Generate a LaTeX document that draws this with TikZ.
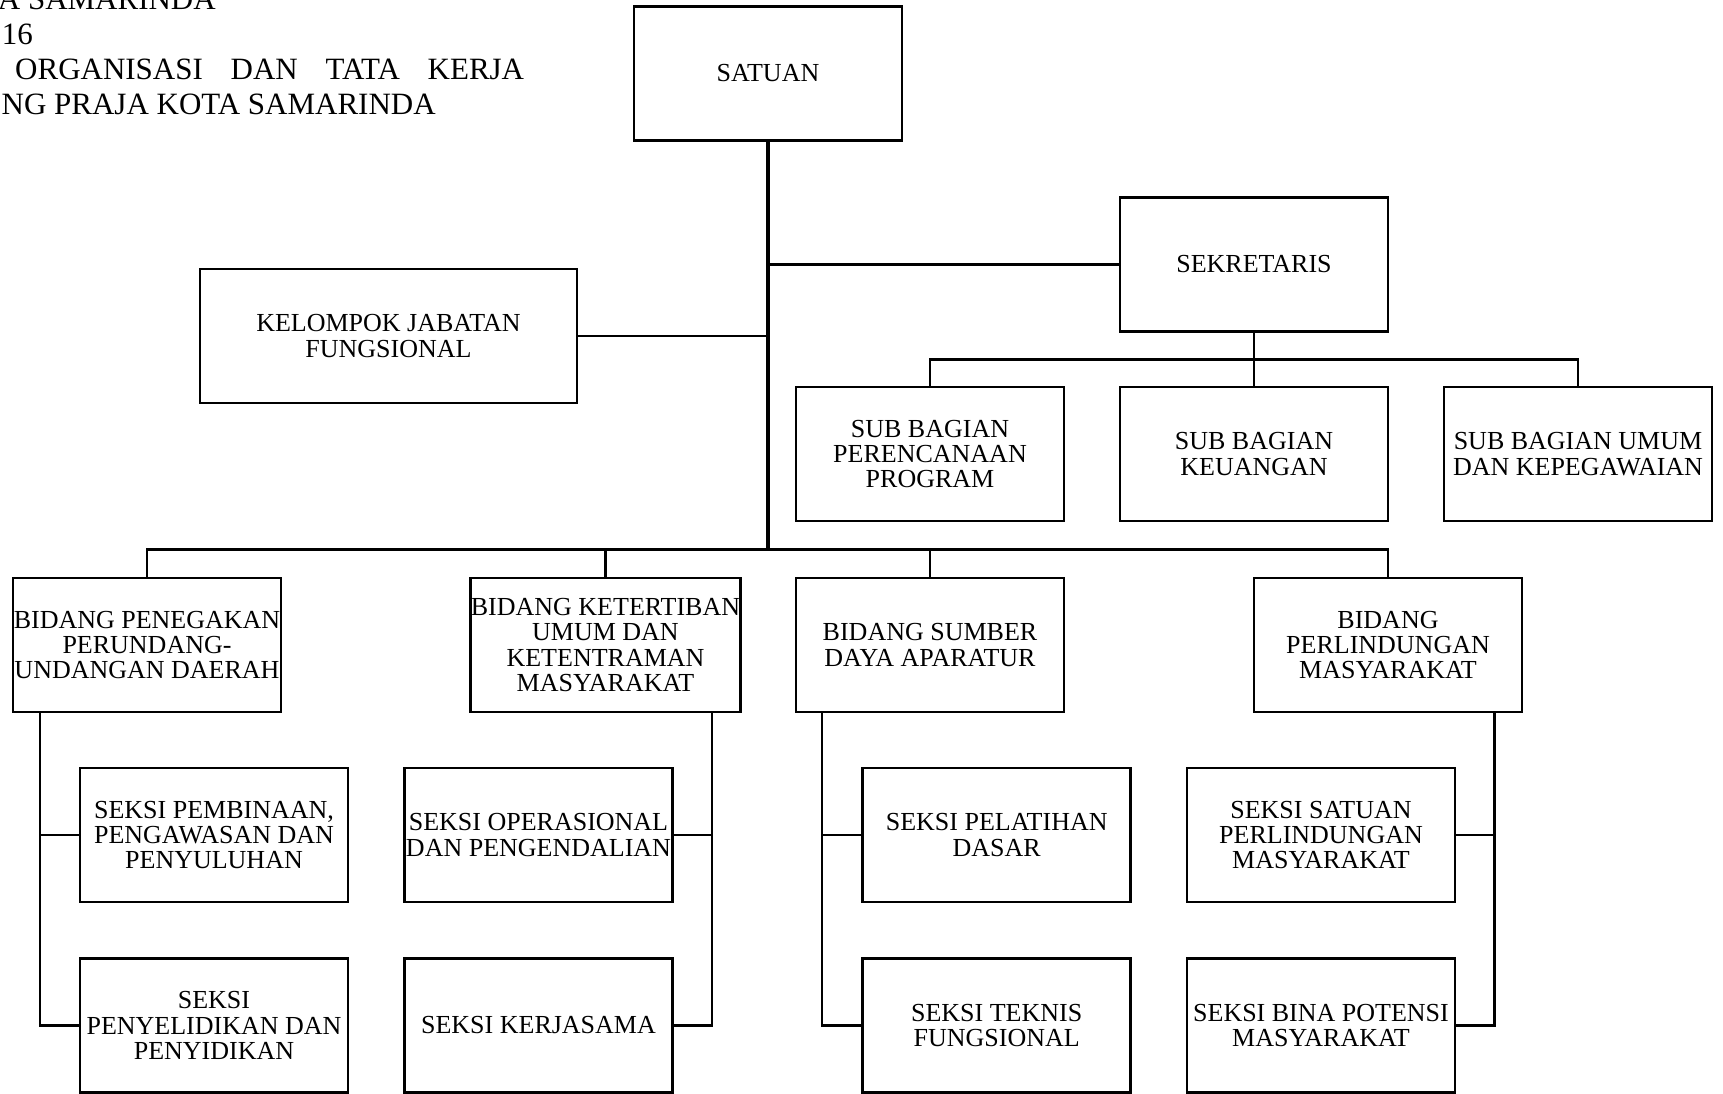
\documentclass[tikz,border=0pt]{standalone}
\usepackage{fontspec}
\setmainfont{Liberation Serif}
\begin{document}
\begin{tikzpicture}[x=1pt,y=-1pt,
  box/.style={draw, line width=2.8pt, minimum width=268pt, minimum height=134pt, inner sep=0pt, align=center, font=\fontsize{26pt}{25.3pt}\selectfont},
  hdr/.style={inner sep=0pt, font=\fontsize{31pt}{35pt}\selectfont},
  conn/.style={line width=2.8pt},
  trunk/.style={line width=4pt}]
\useasboundingbox (0,0) rectangle (1723,1093);
% header
\node[hdr, anchor=base east] (h1) at (216,9.4) {A SAMARINDA};
\node[hdr, anchor=base east] (h2) at (33,44) {16};
\node[hdr, anchor=base west] (h3) at (15,79) {\makebox[509pt][s]{ORGANISASI\hfill DAN\hfill TATA\hfill KERJA}};
\node[hdr, anchor=base east] (h4) at (436,114) {NG PRAJA KOTA SAMARINDA};
% boxes
\node[box] (satuan) at (768,73.5) {SATUAN};
\node[box] (sekretaris) at (1254,264.5) {SEKRETARIS};
\node[box, minimum width=377pt] (kelompok) at (388.5,336) {KELOMPOK JABATAN\\FUNGSIONAL};
\node[box] (sub1) at (930,454) {SUB BAGIAN\\PERENCANAAN\\PROGRAM};
\node[box] (sub2) at (1254,454) {SUB BAGIAN\\KEUANGAN};
\node[box] (sub3) at (1578,454) {SUB BAGIAN UMUM\\DAN KEPEGAWAIAN};
\node[box] (bid1) at (147,645) {BIDANG PENEGAKAN\\PERUNDANG-\\UNDANGAN DAERAH};
\node[box] (bid2) at (605.5,645) {BIDANG KETERTIBAN\\UMUM DAN\\KETENTRAMAN\\MASYARAKAT};
\node[box] (bid3) at (930,645) {BIDANG SUMBER\\DAYA APARATUR};
\node[box] (bid4) at (1388,645) {BIDANG\\PERLINDUNGAN\\MASYARAKAT};
\node[box] (s11) at (214,835) {SEKSI PEMBINAAN,\\PENGAWASAN DAN\\PENYULUHAN};
\node[box] (s12) at (214,1025.5) {SEKSI\\PENYELIDIKAN DAN\\PENYIDIKAN};
\node[box] (s21) at (538.5,835) {SEKSI OPERASIONAL\\DAN PENGENDALIAN};
\node[box] (s22) at (538.5,1025.5) {SEKSI KERJASAMA};
\node[box] (s31) at (996.7,835) {SEKSI PELATIHAN\\DASAR};
\node[box] (s32) at (996.7,1025.5) {SEKSI TEKNIS\\FUNGSIONAL};
\node[box] (s41) at (1321,835) {SEKSI SATUAN\\PERLINDUNGAN\\MASYARAKAT};
\node[box] (s42) at (1321,1025.5) {SEKSI BINA POTENSI\\MASYARAKAT};
% coordinates
\coordinate (bus) at (768,549.5);
\coordinate (sbus) at (1254,359.3);
\coordinate (k1) at (40,712);
\coordinate (k2) at (712,712);
\coordinate (k3) at (822,712);
\coordinate (k4) at (1494.5,712);
% connectors
\draw[conn] (satuan.south |- sekretaris.west) -- (sekretaris.west);
\draw[conn] (satuan.south |- kelompok.east) -- (kelompok.east);
\draw[conn] (sekretaris.south) -- (sub2.north);
\draw[conn] (sub1.north) |- (sbus) -| (sub3.north);
\draw[conn] (bid1.north) |- (bus) -| (bid4.north);
\draw[conn] (bid2.north) -- (bid2.north |- bus);
\draw[conn] (bid3.north) -- (bid3.north |- bus);
\draw[trunk] (satuan.south) -- (bus);
\draw[conn] (k1) |- (s12.west);
\draw[conn] (k1 |- s11.west) -- (s11.west);
\draw[conn] (k2) |- (s22.east);
\draw[conn] (k2 |- s21.east) -- (s21.east);
\draw[conn] (k3) |- (s32.west);
\draw[conn] (k3 |- s31.west) -- (s31.west);
\draw[conn] (k4) |- (s42.east);
\draw[conn] (k4 |- s41.east) -- (s41.east);
\end{tikzpicture}
\end{document}
